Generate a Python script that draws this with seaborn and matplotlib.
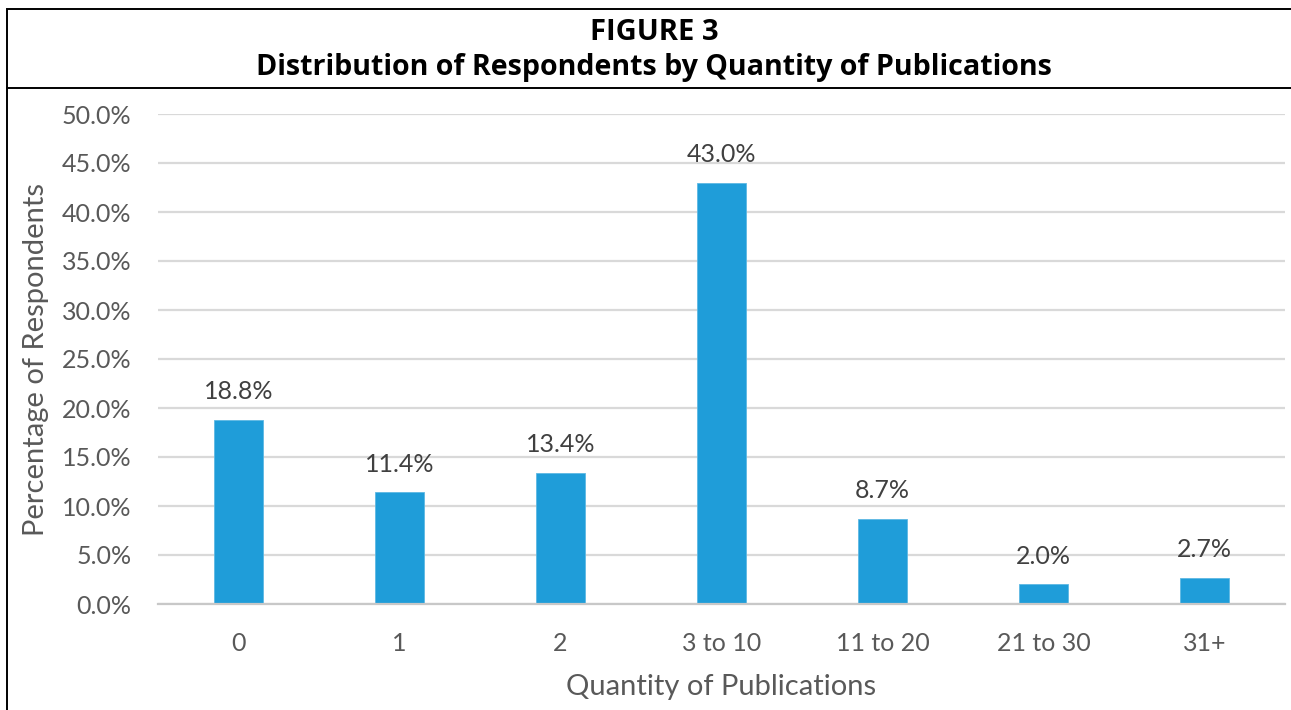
import matplotlib
matplotlib.use("Agg")
import matplotlib.pyplot as plt
from matplotlib.lines import Line2D
from matplotlib.patches import Rectangle
import seaborn as sns
import pandas as pd

categories = ["0", "1", "2", "3 to 10", "11 to 20", "21 to 30", "31+"]
percentages = [18.8, 11.4, 13.4, 43.0, 8.7, 2.0, 2.7]
y_ticks = [0, 5, 10, 15, 20, 25, 30, 35, 40, 45, 50]

title_line1 = "FIGURE 3"
title_line2 = "Distribution of Respondents by Quantity of Publications"
x_label = "Quantity of Publications"
y_label = "Percentage of Respondents"

df = pd.DataFrame({"category": categories, "pct": percentages})

sns.set_theme(style="white")
plt.rcParams["font.family"] = ["Lato", "DejaVu Sans"]

W, H = 1291, 710
fig = plt.figure(figsize=(W / 100, H / 100), dpi=100)
ax = fig.add_axes([158 / W, (H - 604) / H, (1285 - 158) / W, (604 - 114) / H])

bar_color = "#1F9DD9"
text_gray = "#595959"

sns.barplot(data=df, x="category", y="pct", color=bar_color, width=0.31,
            saturation=1, edgecolor="#5DB8E3", linewidth=0.6, ax=ax, zorder=3)

ax.set_xlim(-0.5, len(categories) - 0.5)
ax.set_ylim(0, 50)
ax.set_yticks(y_ticks)
ax.set_yticklabels([f"{v:.1f}%" for v in y_ticks])
ax.yaxis.grid(True, color="#D9D9D9", linewidth=1.6, zorder=0)
ax.set_axisbelow(True)
for side in ["top", "right", "left"]:
    ax.spines[side].set_visible(False)
ax.spines["bottom"].set_color("#C8C8C8")
ax.spines["bottom"].set_linewidth(1.6)
ax.spines["bottom"].set_zorder(4)

ax.tick_params(axis="both", length=0, labelsize=18, labelcolor=text_gray)
ax.tick_params(axis="y", pad=19)
ax.tick_params(axis="x", pad=20)

ax.set_xlabel(x_label, fontsize=21, color=text_gray, labelpad=14)
ax.set_ylabel(y_label, fontsize=21, color=text_gray, labelpad=9)

# Value labels above each bar
for i, v in enumerate(percentages):
    ax.annotate(f"{v:.1f}%", xy=(i, v), xytext=(0, 12), textcoords="offset points",
                ha="center", va="bottom", fontsize=18, color="#404040")

# Frame around the figure and the title band
fig.add_artist(Rectangle((6.5 / W, -0.05), 1.2, 1.05 - 8.5 / H, transform=fig.transFigure,
                         fill=False, edgecolor="black", linewidth=1.4))
fig.add_artist(Line2D([6.5 / W, 1.0], [(H - 88) / H] * 2, transform=fig.transFigure,
                      color="black", linewidth=1.4))

title_x = 654 / W
fig.text(title_x, (H - 33) / H, title_line1, ha="center", va="center", fontsize=21,
         fontweight="bold", color="black", family=["Open Sans", "DejaVu Sans"])
fig.text(title_x, (H - 68) / H, title_line2, ha="center", va="center", fontsize=20.6,
         fontweight="bold", color="black", family=["Open Sans", "DejaVu Sans"])

fig.savefig("out.png", dpi=100)
